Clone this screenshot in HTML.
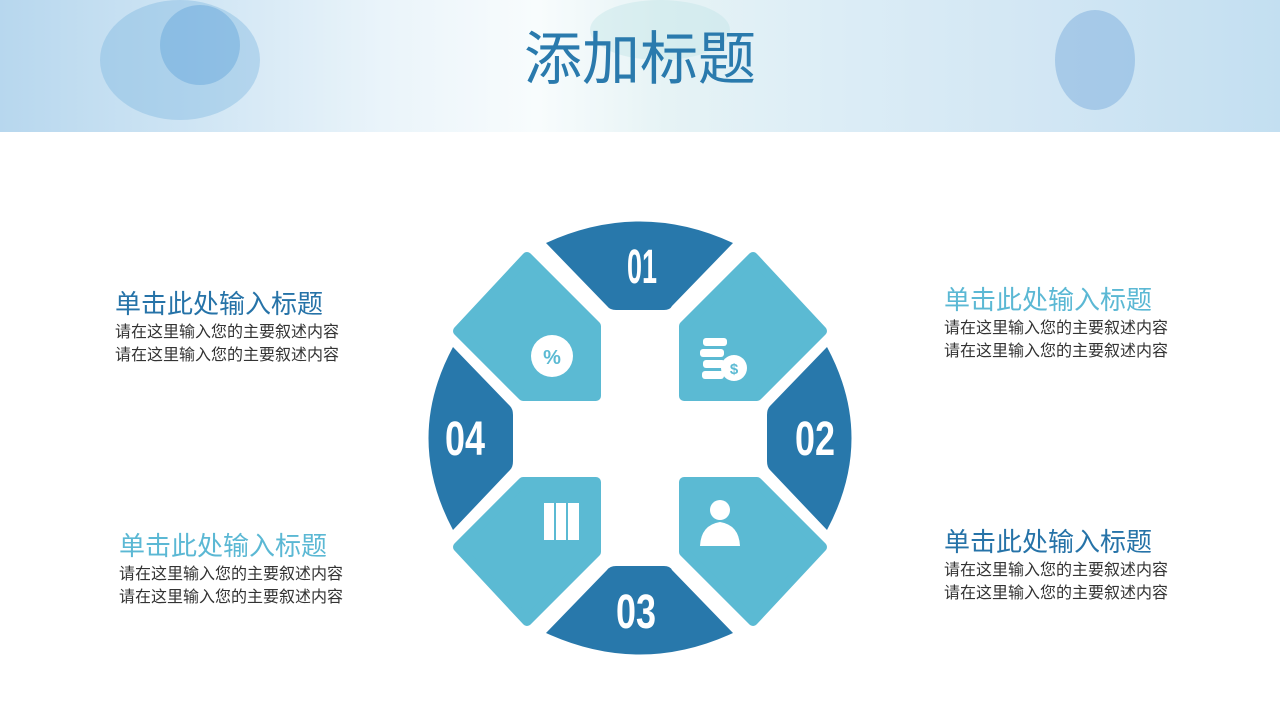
<!DOCTYPE html>
<html><head><meta charset="utf-8"><style>
body{margin:0;width:1280px;height:720px;overflow:hidden;background:#fff;font-family:"Liberation Sans","Noto Sans CJK SC",sans-serif;position:relative}
.hdr{position:absolute;left:0;top:0;width:1280px;height:132px;background:linear-gradient(90deg,#b7d7ee 0%,#cfe5f4 15%,#eaf4fa 30%,#f8fcfd 42%,#e6f3f5 52%,#dcedf6 65%,#d3e7f4 80%,#c3dff1 100%)}
.t{position:absolute;left:0;width:1280px;top:22px;text-align:center;font-size:58px;color:#2a7aad;line-height:76px}
.blk{position:absolute;font-size:16px;color:#333;line-height:23px}
.blk .h{font-size:26px;line-height:34px}
</style></head><body>
<div class="hdr">
<svg width="1280" height="132" style="position:absolute;left:0;top:0">
<ellipse cx="180" cy="60" rx="80" ry="60" fill="#6fb0dc" opacity=".35"/>
<ellipse cx="200" cy="45" rx="40" ry="40" fill="#3f8fcf" opacity=".3"/>
<ellipse cx="1095" cy="60" rx="40" ry="50" fill="#6a9fd8" opacity=".4"/>
<ellipse cx="660" cy="30" rx="70" ry="30" fill="#bfe3e6" opacity=".4"/>
</svg>
</div>
<div class="t">添加标题</div>
<svg width="1280" height="720" style="position:absolute;left:0;top:0">
<g fill="#2878ab">
<path d="M546 243 Q640 200 733 243 L672 306 Q670 310 664 310 L616 310 Q610 310 607 306 Z"/>
<path d="M546 633 Q640 676 733 633 L672 570 Q670 566 664 566 L616 566 Q610 566 607 570 Z"/>
<path d="M827 347 Q876 438 827 530 L770 470 Q767 467 767 461 L767 415 Q767 409 770 406 Z"/>
<path d="M453 347 Q404 438 453 530 L510 470 Q513 467 513 461 L513 415 Q513 409 510 406 Z"/>
</g>
<g fill="#5bbad3" stroke="#5bbad3" stroke-width="10" stroke-linejoin="round">
<path d="M527 257 L596 326 L596 396 L523 396 L458 331 Z"/>
<path d="M753 257 L684 326 L684 396 L757 396 L822 331 Z"/>
<path d="M527 621 L596 552 L596 482 L523 482 L458 547 Z"/>
<path d="M753 621 L684 552 L684 482 L757 482 L822 547 Z"/>
</g>
<g fill="#fff" font-family="Liberation Sans Narrow,Liberation Sans,sans-serif" font-weight="bold" text-anchor="middle" font-size="48">
<text x="642" y="283" textLength="30" lengthAdjust="spacingAndGlyphs">01</text>
<text x="815" y="455" textLength="40" lengthAdjust="spacingAndGlyphs">02</text>
<text x="636" y="628" textLength="40" lengthAdjust="spacingAndGlyphs">03</text>
<text x="465" y="455" textLength="40" lengthAdjust="spacingAndGlyphs">04</text>
</g>
<g fill="#fff">
<circle cx="552" cy="356" r="21"/>
<text x="552" y="364" text-anchor="middle" font-size="20" font-weight="bold" fill="#5bbad3" font-family="Liberation Sans">%</text>
<rect x="703" y="338" width="24" height="8" rx="3"/><rect x="700" y="349" width="24" height="8" rx="3"/><rect x="703" y="360" width="22" height="8" rx="3"/><rect x="702" y="371" width="22" height="8" rx="3"/>
<circle cx="734" cy="368" r="13"/>
<text x="734" y="374" text-anchor="middle" font-size="15" font-weight="bold" fill="#5bbad3" font-family="Liberation Sans">$</text>
<rect x="544" y="503" width="10" height="37"/><rect x="556" y="503" width="10" height="37"/><rect x="568" y="503" width="11" height="37"/>
<circle cx="720" cy="510" r="10"/>
<path d="M700 546 Q701 525 720 522 Q739 525 740 546 Z"/>
</g>
</svg>
<div class="blk" style="left:115px;top:287px"><div class="h" style="color:#2673a8">单击此处输入标题</div>请在这里输入您的主要叙述内容<br>请在这里输入您的主要叙述内容</div>
<div class="blk" style="left:944px;top:283px"><div class="h" style="color:#5bb8d4">单击此处输入标题</div>请在这里输入您的主要叙述内容<br>请在这里输入您的主要叙述内容</div>
<div class="blk" style="left:119px;top:529px"><div class="h" style="color:#5bb8d4">单击此处输入标题</div>请在这里输入您的主要叙述内容<br>请在这里输入您的主要叙述内容</div>
<div class="blk" style="left:944px;top:525px"><div class="h" style="color:#2673a8">单击此处输入标题</div>请在这里输入您的主要叙述内容<br>请在这里输入您的主要叙述内容</div>
</body></html>
